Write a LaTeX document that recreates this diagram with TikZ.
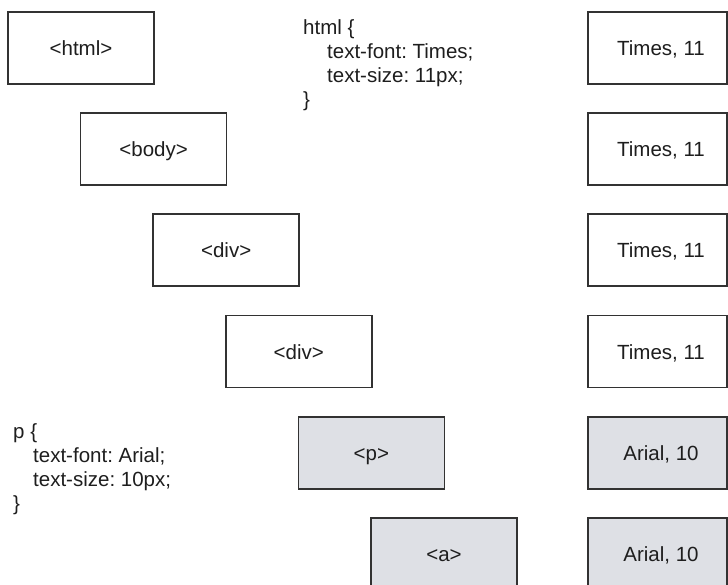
\documentclass[tikz,border=0pt]{standalone}
\usepackage{fontspec}
\setmainfont{Liberation Sans}
\frenchspacing
\definecolor{linecol}{RGB}{50,50,50}
\definecolor{textcol}{RGB}{30,30,30}
\definecolor{grayfill}{RGB}{222,224,229}
\tikzset{
  tagbox/.style={draw=linecol, line width=1.7pt, fill=white, minimum width=146pt, minimum height=72pt,
    inner sep=0pt, text=textcol, font=\fontsize{20.5}{24.3}\selectfont, text height=15pt, text depth=0pt},
  valbox/.style={tagbox, minimum width=139pt, execute at begin node={\hspace*{7pt}}},
  grayed/.style={fill=grayfill},
  cssblock/.style={anchor=north west, inner sep=0pt, align=left, text=textcol,
    font=\fontsize{20.5}{24.3}\selectfont}
}
\begin{document}
\begin{tikzpicture}[x=1pt,y=-1pt]
\useasboundingbox (0,0) rectangle (728,585);
% element boxes
\node[tagbox] (html) at (81,48) {<html>};
\node[tagbox] (body) at (153.6,149) {<body>};
\node[tagbox] (div1) at (226.2,250) {<div>};
\node[tagbox] (div2) at (298.8,351.5) {<div>};
\node[tagbox,grayed] (p) at (371.4,453) {<p>};
\node[tagbox,grayed] (a) at (444,554) {<a>};
% value boxes
\node[valbox] (v1) at (657.5,48) {Times, 11};
\node[valbox] (v2) at (657.5,149) {Times, 11};
\node[valbox] (v3) at (657.5,250) {Times, 11};
\node[valbox] (v4) at (657.5,351.5) {Times, 11};
\node[valbox,grayed] (v5) at (657.5,453) {Arial, 10};
\node[valbox,grayed] (v6) at (657.5,554) {Arial, 10};
% css rules
\node[cssblock] (cssHtml) at (303,19) {html \{\\\hspace*{24pt}text-font: Times;\\\hspace*{24pt}text-size: 11px;\\\}};
\node[cssblock] (cssP) at (13,423) {p \{\\\hspace*{20pt}text-font: Arial;\\\hspace*{20pt}text-size: 10px;\\\}};
\end{tikzpicture}
\end{document}
